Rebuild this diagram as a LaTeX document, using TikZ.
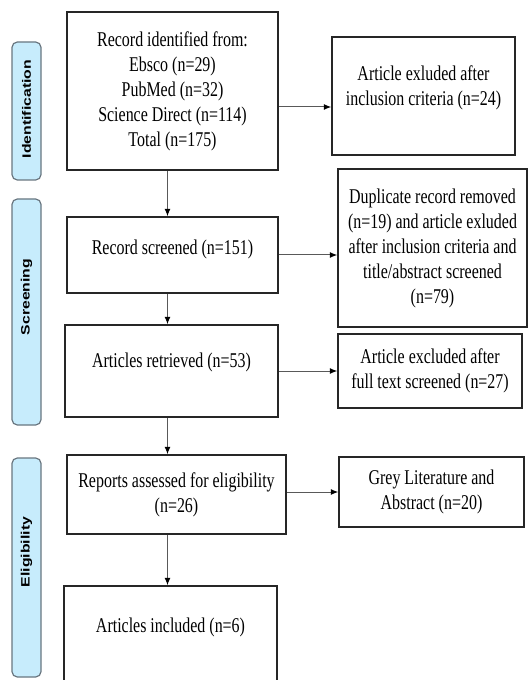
\documentclass[tikz,border=0pt]{standalone}
\usepackage{fontspec}
\setmainfont[FakeStretch=0.76]{Liberation Serif}
\newfontfamily\phasefont[FakeStretch=1.3]{Liberation Sans}
\definecolor{phasefill}{RGB}{199,236,252}
\definecolor{phaseline}{RGB}{105,118,128}
\usetikzlibrary{arrows.meta}

\begin{document}
\begin{tikzpicture}[x=0.75pt,y=-0.75pt,
    box/.style={draw=black!85,line width=1.25pt,rectangle,align=center,inner sep=2pt,
        font=\fontsize{15.75}{18.75}\selectfont},
    bar/.style={draw=phaseline,fill=phasefill,line width=0.9pt,rounded corners=4pt,minimum width=21.75pt},
    phase/.style={rotate=90,font=\phasefont\bfseries\fontsize{9.1}{11}\selectfont},
    link/.style={draw=black!65,line width=0.75pt,-{Latex[black,length=5.5pt,width=4.5pt]}}]
    \useasboundingbox (0,0) rectangle (528,680);
    \clip (0,0) rectangle (528,680);

    \node (idbar) [bar,minimum height=103.5pt] at (26.5,111) {};
    \node (scrbar) [bar,minimum height=169.5pt] at (26.5,312) {};
    \node (eligbar) [bar,minimum height=164.25pt] at (26.5,567.5) {};
    \node (idlab) [phase] at (26.5,109) {Identification};
    \node (scrlab) [phase] at (26.5,297) {Screening};
    \node (eliglab) [phase] at (26.5,552) {Eligibility};

    \node (ident) [box,minimum width=158.25pt,minimum height=118.5pt] at (172.5,91) {
        Record identified from:\\ Ebsco (n=29)\\ PubMed (n=32)\\ Science Direct (n=114)\\ Total (n=175)};
    \node (excla) [box,minimum width=137.25pt,minimum height=88.5pt,text depth=15pt] at (423.5,96) {
        Article exluded after\\ inclusion criteria (n=24)};
    \node (screen) [box,minimum width=158.25pt,minimum height=57pt,text depth=11pt] at (172.5,255) {
        Record screened (n=151)};
    \node (dupl) [box,minimum width=141.75pt,minimum height=118.5pt] at (432.5,248) {
        Duplicate record removed\\ (n=19) and article exluded\\ after inclusion criteria and\\ title/abstract screened\\ (n=79)};
    \node (retr) [box,minimum width=159.75pt,minimum height=69pt,text depth=15.5pt] at (171.5,371) {
        Articles retrieved (n=53)};
    \node (exclb) [box,minimum width=138pt,minimum height=55.5pt] at (430,371) {
        Article excluded after\\ full text screened (n=27)};
    \node (reports) [box,minimum width=164.25pt,minimum height=59.25pt] at (176.5,494.5) {
        Reports assessed for eligibility\\ (n=26)};
    \node (grey) [box,minimum width=138.75pt,minimum height=52.5pt] at (431.5,492) {
        Grey Literature and\\ Abstract (n=20)};
    \node (incl) [box,minimum width=159.75pt,minimum height=75pt,text depth=15.5pt] at (170.5,636) {
        Articles included (n=6)};

    \coordinate (trunk) at (167.5,0);
    \draw[link] (ident.south -| trunk) -- (screen.north -| trunk);
    \draw[link] (screen.south -| trunk) -- (retr.north -| trunk);
    \draw[link] (retr.south -| trunk) -- (reports.north -| trunk);
    \draw[link] (reports.south -| trunk) -- (incl.north -| trunk);
    \draw[link] ([yshift=-8.25pt]excla.west -| ident.east) -- ([yshift=-8.25pt]excla.west);
    \draw[link] (screen.east) -- (screen.east -| dupl.west);
    \draw[link] (retr) -- (exclb);
    \draw[link] (grey.west -| reports.east) -- (grey.west);
\end{tikzpicture}
\end{document}
